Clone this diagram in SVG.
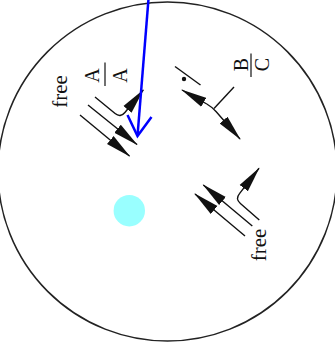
<svg xmlns="http://www.w3.org/2000/svg" width="335" height="349" viewBox="0 0 335 349">
  <style>
    .ln { fill: none; stroke: #111; stroke-width: 1.4; }
    .arr { fill: none; stroke: #111; stroke-width: 1.4; marker-end: url(#ah); }
    .lbl { font-family: "Liberation Serif", "Times New Roman", serif; fill: #111; text-anchor: middle; }
    .blue { fill: none; stroke: #0000ff; stroke-width: 2.5; }
  </style>
  <defs>
    <marker id="ah" viewBox="0 0 26 12" markerUnits="userSpaceOnUse" markerWidth="26" markerHeight="12" refX="25" refY="6" orient="auto">
      <path d="M0,0.8 L26,6 L0,11.2 Z" fill="#111"/>
    </marker>
  </defs>
  <rect width="335" height="349" fill="#fff"/>
  <g id="boundary">
    <circle cx="167.5" cy="171.5" r="169.5" fill="none" stroke="#222" stroke-width="1.5"/>
  </g>
  <g id="cyan-dot">
    <circle cx="129.3" cy="210.7" r="15.7" fill="#99ffff"/>
  </g>
  <g id="connectors">
    <!-- upper-left group -->
    <path class="arr" d="M95,97 L115.1,113.5 Q120.5,117.9 124.9,112.5 L143.3,90"/>
    <path class="arr" d="M88,105 L137,144.5"/>
    <path class="arr" d="M80,115 L129.5,156"/>
    <!-- upper-right group -->
    <path class="ln" d="M175,66.5 L200.5,85"/>
    <circle cx="184" cy="79" r="2.2" fill="#111"/>
    <path class="arr" d="M206.8,104 L182,90"/>
    <path class="arr" d="M206.8,104 Q212,107 216,111.5 L240,139"/>
    <path class="ln" d="M214,108.5 L234,87"/>
    <!-- lower-right group -->
    <path class="arr" d="M245,236 L195,194"/>
    <path class="arr" d="M252.3,226 L203.3,185"/>
    <path class="arr" d="M259.3,220 L240.4,203.5 Q235,199 239.5,193.6 L259,168.3"/>
  </g>
  <g id="label-free-1">
    <text class="lbl" font-size="21" transform="translate(66.5,91.5) rotate(-90)">free</text>
  </g>
  <g id="label-AA">
    <text class="lbl" font-size="20" transform="translate(98.5,75.5) rotate(-90)">A</text>
    <line x1="105" y1="62.5" x2="105" y2="86" stroke="#111" stroke-width="1.2"/>
    <text class="lbl" font-size="20" transform="translate(126.5,75.5) rotate(-90)">A</text>
  </g>
  <g id="label-BC">
    <text class="lbl" font-size="20" transform="translate(247.5,64.5) rotate(-90)">B</text>
    <line x1="251" y1="53.5" x2="251" y2="77" stroke="#111" stroke-width="1.2"/>
    <text class="lbl" font-size="20" transform="translate(268.5,64.5) rotate(-90)">C</text>
  </g>
  <g id="label-free-2">
    <text class="lbl" font-size="21" transform="translate(266,245) rotate(-90)">free</text>
  </g>
  <g id="blue-arrow">
    <path class="blue" d="M148.5,-1 L137.5,136"/>
    <path class="blue" d="M127.5,115 L137.5,136 L151.5,117"/>
  </g>
</svg>
